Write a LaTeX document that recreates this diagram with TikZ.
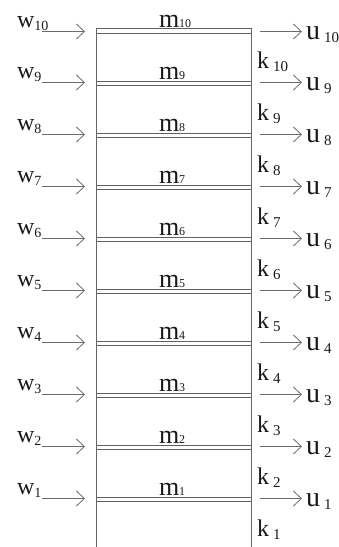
\documentclass[tikz,border=0pt]{standalone}
\usepackage{fontspec}
\setmainfont{Liberation Serif}
\usetikzlibrary{arrows.meta}
\newcommand\fsz[1]{\fontsize{#1}{#1}\selectfont}
\tikzset{
  col/.style={draw=black!60, line width=1.0pt},
  slab/.style={draw=black!62, line width=0.9pt},
  force/.style={draw=black!58, line width=0.8pt, -{Straight Barb[length=8pt,width=15pt,line width=0.8pt]}},
  lbl/.style={inner sep=0pt, outer sep=0pt, anchor=base west, text=black!90},
}
\begin{document}
\begin{tikzpicture}[x=1pt,y=-1pt]
\useasboundingbox (0,0) rectangle (338,547);
% columns
\coordinate (LT) at (96.5,28);
\coordinate (LB) at (96.5,547);
\coordinate (RT) at (251,28);
\coordinate (RB) at (251,547);
\draw[col] (LT) -- (LB);
\draw[col] (RT) -- (RB);
% top slab
\coordinate (S10a) at (96.5,28);
\coordinate (S10b) at (251,28);
\coordinate (S10c) at (96.5,33.5);
\coordinate (S10d) at (251,33.5);
\draw[slab] (S10a) -- (S10b);
\draw[slab] (S10c) -- (S10d);
% floors
\foreach \i in {1,...,9}{
  \pgfmathsetmacro\y{497-(\i-1)*52}
  \pgfmathsetmacro\yb{\y+4}
  \coordinate (S\i a) at (96.5,\y);
  \coordinate (S\i b) at (251,\y);
  \coordinate (S\i c) at (96.5,\yb);
  \coordinate (S\i d) at (251,\yb);
  \draw[slab] (S\i a) -- (S\i b);
  \draw[slab] (S\i c) -- (S\i d);
}
% loads, masses, displacements
\foreach \i in {1,...,10}{
  \pgfmathsetmacro\y{497-(\i-1)*52}
  \pgfmathsetmacro\ya{\i==10 ? 31.5 : \y+1.5}
  \pgfmathsetmacro\yw{\ya-4.5}
  \pgfmathsetmacro\ym{\i==10 ? 27 : \y-2}
  \pgfmathsetmacro\yu{\ya+8}
  \coordinate (WA\i) at (42,\ya);
  \coordinate (WB\i) at (85,\ya);
  \coordinate (UA\i) at (260,\ya);
  \coordinate (UB\i) at (302,\ya);
  \draw[force] (WA\i) -- (WB\i);
  \draw[force] (UA\i) -- (UB\i);
  \node[lbl] (w\i) at (17,\yw) {\fsz{24}w\raisebox{-3pt}{\fsz{14}\i}};
  \node[lbl] (m\i) at (159,\ym) {\fsz{26}m{\fsz{12}\i}};
  \node[lbl] (u\i) at (306,\yu) {\fsz{28}u\hspace{4pt}\raisebox{-3pt}{\fsz{15}\i}};
}
% stiffnesses
\foreach \i in {1,...,10}{
  \pgfmathsetmacro\yk{\i==1 ? 536 : 497-(\i-2)*52-13}
  \node[lbl] (k\i) at (257,\yk) {\fsz{24}k\hspace{4pt}\raisebox{-3pt}{\fsz{15}\i}};
}
\end{tikzpicture}
\end{document}
